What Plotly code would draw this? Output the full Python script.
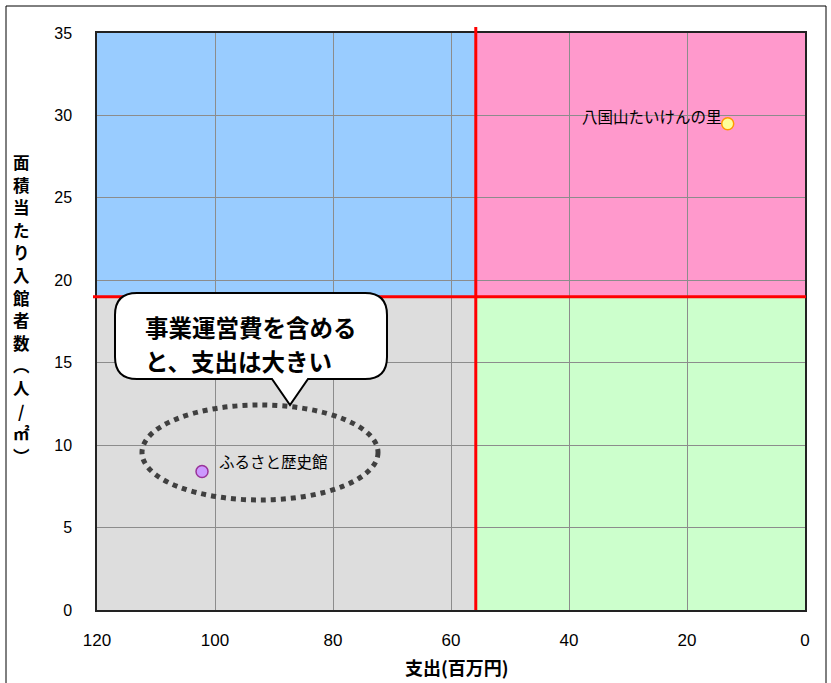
import plotly.graph_objects as go

# Facility data: expenditure (million yen) vs visitors per floor area (people / m²)
facilities = ["八国山たいけんの里", "ふるさと歴史館"]
expenditure = [13.1, 102.2]
visitors_per_area = [29.5, 8.4]
marker_fill = ["#FFFF99", "#CC99FF"]
marker_edge = ["#FF9900", "#993399"]

# Quadrant dividers
x_split = 55.8
y_split = 19.0

x_range = [120, 0]
y_range = [0, 35]
x_ticks = [120, 100, 80, 60, 40, 20, 0]
y_ticks = [0, 5, 10, 15, 20, 25, 30, 35]

W, H = 831, 683
L, R, T, B = 97, 805, 33, 610  # plot area in pixels


def px(xp):
    return (xp - L) / (R - L)


def py(yp):
    return (B - yp) / (B - T)


fig = go.Figure()

fig.add_trace(go.Scatter(
    x=expenditure, y=visitors_per_area, mode="markers",
    marker=dict(size=12, color=marker_fill, line=dict(color=marker_edge, width=1.5)),
    hoverinfo="skip", showlegend=False, cliponaxis=False,
))

shapes = []
# quadrant backgrounds (below gridlines)
quads = [
    (x_range[0], x_split, y_split, y_range[1], "#99CCFF"),
    (x_split, x_range[1], y_split, y_range[1], "#FF99CC"),
    (x_range[0], x_split, y_range[0], y_split, "#DDDDDD"),
    (x_split, x_range[1], y_range[0], y_split, "#CCFFCC"),
]
for x0, x1, y0, y1, c in quads:
    shapes.append(dict(type="rect", xref="x", yref="y", x0=x0, x1=x1, y0=y0, y1=y1,
                       fillcolor=c, line=dict(width=0), layer="below"))

# red dividing lines
shapes.append(dict(type="line", xref="x", yref="paper", x0=x_split, x1=x_split,
                   y0=0, y1=py(27), line=dict(color="#FF0000", width=3), layer="above"))
shapes.append(dict(type="line", xref="paper", yref="y", x0=px(93), x1=px(806),
                   y0=y_split, y1=y_split, line=dict(color="#FF0000", width=3), layer="above"))

# dotted ellipse around the highlighted facility
shapes.append(dict(type="circle", xref="paper", yref="paper",
                   x0=px(142), x1=px(378), y0=py(500), y1=py(405),
                   line=dict(color="#404040", width=5, dash="dot"), layer="above"))

# speech-bubble callout
bx0, bx1, by0, by1, r = 115, 387, 293, 379, 22
pts = [
    ("M", [(bx0 + r, by0)]),
    ("L", [(bx1 - r, by0)]),
    ("Q", [(bx1, by0), (bx1, by0 + r)]),
    ("L", [(bx1, by1 - r)]),
    ("Q", [(bx1, by1), (bx1 - r, by1)]),
    ("L", [(308, by1)]),
    ("L", [(290, 405)]),
    ("L", [(272, by1)]),
    ("L", [(bx0 + r, by1)]),
    ("Q", [(bx0, by1), (bx0, by1 - r)]),
    ("L", [(bx0, by0 + r)]),
    ("Q", [(bx0, by0), (bx0 + r, by0)]),
]
path = ""
for cmd, coords in pts:
    path += cmd + " " + " ".join(f"{px(a):.5f},{py(b):.5f}" for a, b in coords) + " "
path += "Z"
shapes.append(dict(type="path", xref="paper", yref="paper", path=path,
                   fillcolor="white", line=dict(color="black", width=2), layer="above"))

# outer frame
shapes.append(dict(type="rect", xref="paper", yref="paper",
                   x0=px(6), x1=px(826), y0=py(700), y1=py(6),
                   line=dict(color="black", width=1), fillcolor="rgba(0,0,0,0)", layer="above"))

annotations = []
label_font = dict(family="Noto Sans CJK JP", size=15.5, color="black")
# point labels
annotations.append(dict(x=expenditure[0], y=visitors_per_area[0], xref="x", yref="y",
                        text=facilities[0], showarrow=False, xanchor="right", yanchor="middle",
                        xshift=-4, yshift=8, font=label_font))
annotations.append(dict(x=expenditure[1], y=visitors_per_area[1], xref="x", yref="y",
                        text=facilities[1], showarrow=False, xanchor="left", yanchor="middle",
                        xshift=15, yshift=11, font=label_font))

# callout text
for txt, yy in [("事業運営費を含める", 327), ("と、支出は大きい", 361)]:
    annotations.append(dict(x=px(143), y=py(yy), xref="paper", yref="paper",
                            text=f"<b>{txt}</b>", showarrow=False, xanchor="left", yanchor="middle",
                            font=dict(family="Noto Sans CJK JP", size=23.5, color="black")))

# vertical y-axis title, one character per row
y_title_chars = ["面", "積", "当", "た", "り", "入", "館", "者", "数", "︵", "人", "/", "㎡", "︶"]
for i, ch in enumerate(y_title_chars):
    annotations.append(dict(x=px(21), y=py(162 + i * 22.6), xref="paper", yref="paper",
                            text=f"<b>{ch}</b>", showarrow=False, borderpad=0,
                            xanchor="center", yanchor="middle",
                            font=dict(family="Noto Sans CJK JP", size=16.5, color="black")))

# x-axis title
annotations.append(dict(x=px(457), y=py(667), xref="paper", yref="paper",
                        text="<b>支出(百万円)</b>", showarrow=False,
                        xanchor="center", yanchor="middle",
                        font=dict(family="Noto Sans CJK JP", size=18, color="black")))

fig.update_layout(
    width=W, height=H,
    margin=dict(l=L, r=W - R, t=T, b=H - B, pad=0),
    paper_bgcolor="white", plot_bgcolor="white",
    shapes=shapes, annotations=annotations,
    xaxis=dict(range=x_range, tickvals=x_ticks, ticktext=[str(v) for v in x_ticks],
               showgrid=True, gridcolor="#8C8C8C", gridwidth=1, zeroline=False,
               showline=True, linecolor="#222222", linewidth=1.5, mirror=True,
               ticks="", ticklabelstandoff=14,
               tickfont=dict(family="Liberation Sans, Arial", size=17, color="black")),
    yaxis=dict(range=y_range, tickvals=y_ticks, ticktext=[str(v) for v in y_ticks],
               showgrid=True, gridcolor="#8C8C8C", gridwidth=1, zeroline=False,
               showline=True, linecolor="#222222", linewidth=1.5, mirror=True,
               ticks="", ticklabelstandoff=20,
               tickfont=dict(family="Liberation Sans, Arial", size=16, color="black")),
)

fig.write_html("out.html")
